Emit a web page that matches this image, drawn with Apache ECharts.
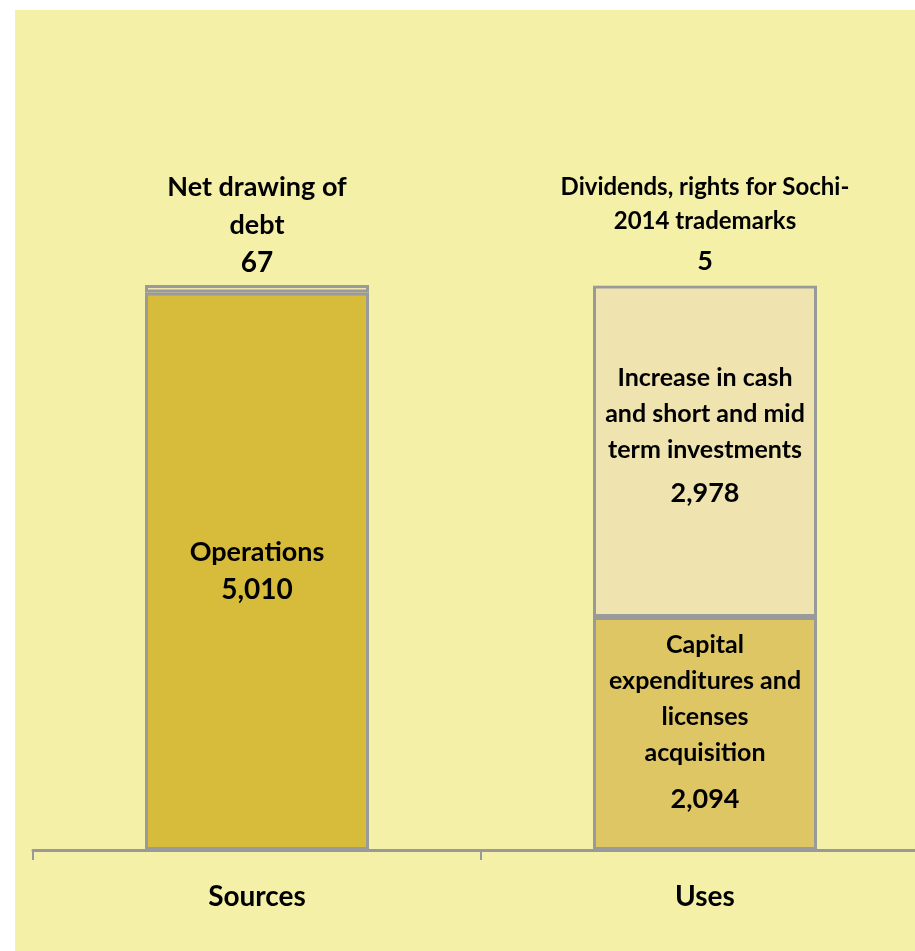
<!DOCTYPE html>
<html>
<head>
<meta charset="utf-8">
<script src="https://cdn.jsdelivr.net/npm/echarts@6/dist/echarts.min.js"></script>
<style>
  html, body { margin: 0; padding: 0; background: #ffffff; overflow: hidden; width: 915px; height: 951px; }
  #bg { position: absolute; left: 15px; top: 10px; width: 900px; height: 941px; background: #F5F0A8; }
  #chart { position: absolute; left: 0; top: 0; width: 930px; height: 951px; }
</style>
</head>
<body>
<div id="bg"></div>
<div id="chart"></div>
<script>
var categories = ['Sources', 'Uses'];
var bottomValues = [5010, 2094];
var middleValues = [67, 2978];
var topValues = [null, 5];
var bottomNames = [['Operations'], ['Capital', 'expenditures and', 'licenses', 'acquisition']];
var middleNames = [['Net drawing of', 'debt'], ['Increase in cash', 'and short and mid', 'term investments']];
var topNames = [null, ['Dividends, rights for Sochi-', '2014 trademarks']];

function fmt(v) { return v.toLocaleString('en-US'); }

var FONT = 'Lato';
var axisGray = '#999999';
var borderGray = '#9a9a9a';

var chart = echarts.init(document.getElementById('chart'), null, { renderer: 'canvas' });

function textLines(lines, tag) {
  return lines.map(function (l) { return '{' + tag + '|' + l + '}'; }).join('\n');
}
function st(size, lh) {
  return { fontFamily: FONT, fontWeight: 'bold', fontSize: size, lineHeight: lh, color: '#000' };
}

var option = {
  backgroundColor: 'transparent',
  animation: false,
  grid: { left: 33, width: 896, top: 285, bottom: 101, containLabel: false },
  xAxis: {
    type: 'category',
    data: categories,
    boundaryGap: true,
    axisLine: { show: true, lineStyle: { color: axisGray, width: 3 } },
    axisTick: { show: true, length: 10, lineStyle: { color: axisGray, width: 2 } },
    axisLabel: { margin: 33, color: '#000', fontFamily: FONT, fontWeight: 'bold', fontSize: 28 }
  },
  yAxis: {
    type: 'value', min: 0, max: 5077, show: false,
    splitLine: { show: false }
  },
  series: [
    {
      type: 'bar', stack: 'a', barWidth: '50%',
      data: bottomValues.map(function (v, i) {
        return {
          value: v,
          itemStyle: { color: i === 0 ? '#D6BC3A' : '#DEC665', borderColor: borderGray, borderWidth: 3 },
          label: i === 0 ? {
            show: true, position: 'inside',
            formatter: textLines(bottomNames[0], 't') + '\n{n|' + fmt(v) + '}',
            rich: { t: st(27, 38), n: st(28, 38) }
          } : {
            show: true, position: 'inside', offset: [0, -6],
            formatter: textLines(bottomNames[1], 't') + '\n{n|' + fmt(v) + '}',
            rich: { t: st(25, 36), n: st(27, 58) }
          }
        };
      })
    },
    {
      type: 'bar', stack: 'a', barWidth: '50%',
      data: middleValues.map(function (v, i) {
        return {
          value: v,
          itemStyle: { color: '#EFE4B0', borderColor: borderGray, borderWidth: 3 },
          label: i === 0 ? {
            show: true, position: 'top', distance: 3,
            formatter: textLines(middleNames[0], 't') + '\n{n|' + fmt(v) + '}',
            rich: { t: st(27, 38), n: st(28, 38) }
          } : {
            show: true, position: 'inside', offset: [0, -12],
            formatter: textLines(middleNames[1], 't') + '\n{n|' + fmt(v) + '}',
            rich: { t: st(25, 36), n: st(27, 50) }
          }
        };
      })
    },
    {
      type: 'bar', stack: 'a', barWidth: '50%',
      data: topValues.map(function (v, i) {
        if (v === null) return '-';
        return {
          value: v,
          itemStyle: { color: '#EFE4B0', borderColor: borderGray, borderWidth: 0 },
          label: {
            show: true, position: 'top', distance: 1,
            formatter: textLines(topNames[i], 't') + '\n{n|' + fmt(v) + '}',
            rich: { t: st(24, 34), n: st(27, 46) }
          }
        };
      })
    }
  ]
};
chart.setOption(option);
</script>
</body>
</html>
